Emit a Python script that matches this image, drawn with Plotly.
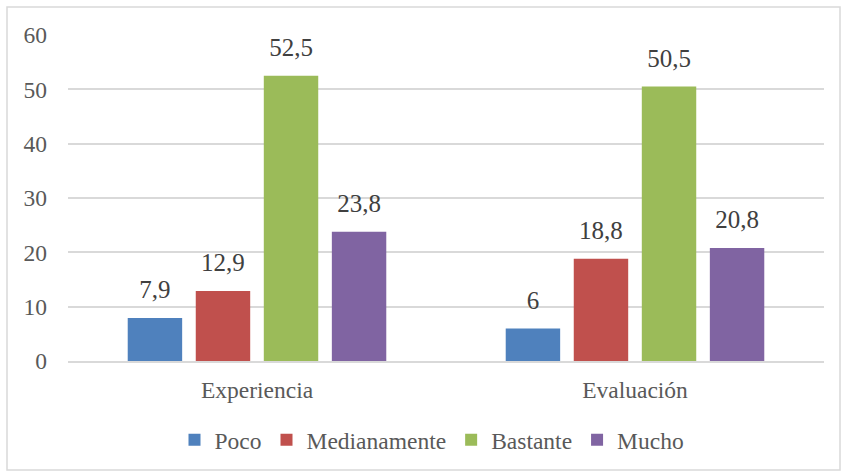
import plotly.graph_objects as go

categories = ["Experiencia", "Evaluación"]
series_names = ["Poco", "Medianamente", "Bastante", "Mucho"]
poco = [7.9, 6]
medianamente = [12.9, 18.8]
bastante = [52.5, 50.5]
mucho = [23.8, 20.8]
colors = ["#4F81BD", "#C0504D", "#9BBB59", "#8064A2"]
y_ticks = [0, 10, 20, 30, 40, 50, 60]

FONT = "Times New Roman, Liberation Serif, DejaVu Serif, serif"
FS = 23.5

def fmt(v):
    s = f"{v:g}"
    return s.replace(".", ",")

fig = go.Figure()
all_vals = [poco, medianamente, bastante, mucho]
for i, (name, vals, col) in enumerate(zip(series_names, all_vals, colors)):
    fig.add_trace(go.Bar(
        x=categories, y=vals, name=name, marker_color=col,
        marker_line_width=0, offsetgroup=str(i), hoverinfo="skip",
    ))
for i, (name, vals) in enumerate(zip(series_names, all_vals)):
    fig.add_trace(go.Scatter(
        x=categories, y=vals, mode="markers+text", offsetgroup=str(i),
        marker=dict(size=20, color="rgba(0,0,0,0)"),
        text=[fmt(v) for v in vals], textposition="top center",
        textfont=dict(family=FONT, size=25, color="#404040"),
        showlegend=False, hoverinfo="skip", cliponaxis=False,
    ))

W, H = 847, 476
l, r, t, b = 68, 23, 35, 115
pw, ph = W - l - r, H - t - b

fig.update_layout(
    width=W, height=H,
    margin=dict(l=l, r=r, t=t, b=b),
    paper_bgcolor="white", plot_bgcolor="white",
    barmode="group", bargap=0.28, bargroupgap=0.2,
    scattermode="group", scattergap=0.28,
    font=dict(family=FONT, size=FS, color="#595959"),
    showlegend=True,
    legend=dict(orientation="h", x=0.5 - 14 / pw, xanchor="center",
                y=(361 - 440) / ph, yanchor="middle",
                font=dict(family=FONT, size=FS, color="#595959"),
                itemwidth=30, tracegroupgap=0),
    xaxis=dict(showgrid=False, showline=True, linecolor="#d9d9d9", linewidth=2,
               ticks="", ticklabelstandoff=7,
               tickfont=dict(family=FONT, size=FS, color="#595959")),
    yaxis=dict(range=[0, 60], tickvals=y_ticks, showgrid=True, gridcolor="#d9d9d9",
               gridwidth=1.5, zeroline=False, showline=False, ticks="",
               ticklabelstandoff=20,
               tickfont=dict(family=FONT, size=FS, color="#595959")),
    shapes=[dict(type="rect", xref="paper", yref="paper",
                 x0=(7 - l) / pw, x1=(840 - l) / pw,
                 y0=(H - b - 470) / ph, y1=(H - b - 7) / ph,
                 line=dict(color="#d9d9d9", width=1.5), layer="below")],
)

fig.write_html("out.html", config={"displayModeBar": False},
               post_script="document.body.style.margin='0';")
